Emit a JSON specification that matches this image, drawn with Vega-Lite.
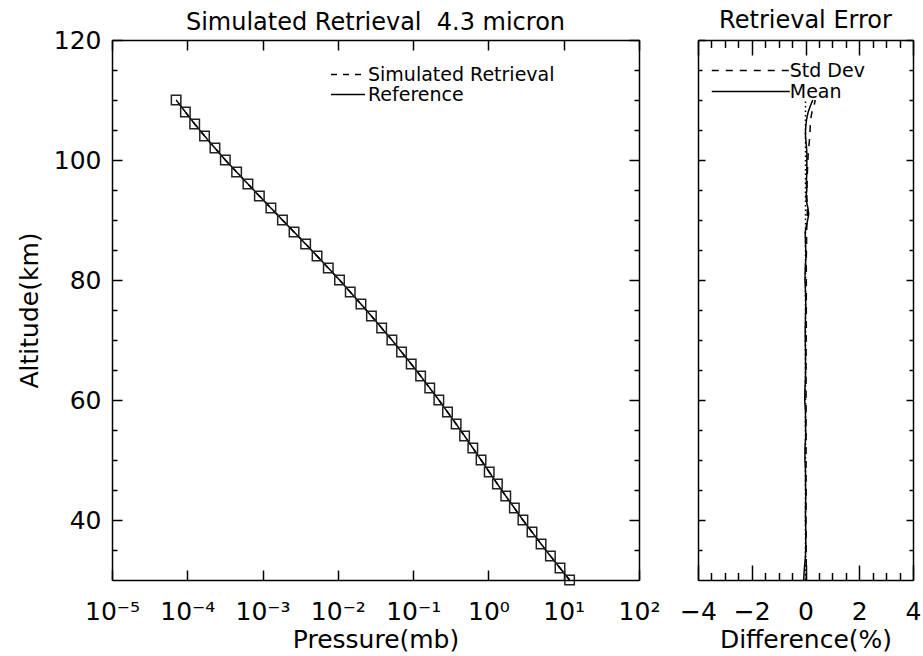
{
  "$schema": "https://vega.github.io/schema/vega-lite/v6.json",
  "background": "white",
  "padding": {"left": 17, "top": 9, "right": 5, "bottom": 5},
  "datasets": {
    "profile": [
      {"alt": 30, "p": 11.97, "series": "Reference"}, {"alt": 32, "p": 8.925, "series": "Reference"}, {"alt": 34, "p": 6.656, "series": "Reference"}, {"alt": 36, "p": 5.002, "series": "Reference"}, {"alt": 38, "p": 3.79, "series": "Reference"}, {"alt": 40, "p": 2.871, "series": "Reference"}, {"alt": 42, "p": 2.21, "series": "Reference"}, {"alt": 44, "p": 1.699, "series": "Reference"}, {"alt": 46, "p": 1.316, "series": "Reference"}, {"alt": 48, "p": 1.024, "series": "Reference"}, {"alt": 50, "p": 0.7978, "series": "Reference"}, {"alt": 52, "p": 0.6203, "series": "Reference"}, {"alt": 54, "p": 0.4824, "series": "Reference"}, {"alt": 56, "p": 0.3725, "series": "Reference"}, {"alt": 58, "p": 0.286, "series": "Reference"}, {"alt": 60, "p": 0.2196, "series": "Reference"}, {"alt": 62, "p": 0.1661, "series": "Reference"}, {"alt": 64, "p": 0.1257, "series": "Reference"}, {"alt": 66, "p": 0.09428, "series": "Reference"}, {"alt": 68, "p": 0.07018, "series": "Reference"}, {"alt": 70, "p": 0.05221, "series": "Reference"}, {"alt": 72, "p": 0.03818, "series": "Reference"}, {"alt": 74, "p": 0.02791, "series": "Reference"}, {"alt": 76, "p": 0.02026, "series": "Reference"}, {"alt": 78, "p": 0.01461, "series": "Reference"}, {"alt": 80, "p": 0.01052, "series": "Reference"}, {"alt": 82, "p": 0.007463, "series": "Reference"}, {"alt": 84, "p": 0.005292, "series": "Reference"}, {"alt": 86, "p": 0.003733, "series": "Reference"}, {"alt": 88, "p": 0.002618, "series": "Reference"}, {"alt": 90, "p": 0.001836, "series": "Reference"}, {"alt": 92, "p": 0.00129, "series": "Reference"}, {"alt": 94, "p": 0.0009064, "series": "Reference"}, {"alt": 96, "p": 0.0006391, "series": "Reference"}, {"alt": 98, "p": 0.0004521, "series": "Reference"}, {"alt": 100, "p": 0.0003201, "series": "Reference"}, {"alt": 102, "p": 0.000233, "series": "Reference"}, {"alt": 104, "p": 0.0001695, "series": "Reference"}, {"alt": 106, "p": 0.0001254, "series": "Reference"}, {"alt": 108, "p": 0.00009438, "series": "Reference"}, {"alt": 110, "p": 0.00007104, "series": "Reference"},
      {"alt": 30, "p": 11.97, "series": "Simulated Retrieval"}, {"alt": 32, "p": 8.925, "series": "Simulated Retrieval"}, {"alt": 34, "p": 6.656, "series": "Simulated Retrieval"}, {"alt": 36, "p": 5.002, "series": "Simulated Retrieval"}, {"alt": 38, "p": 3.79, "series": "Simulated Retrieval"}, {"alt": 40, "p": 2.871, "series": "Simulated Retrieval"}, {"alt": 42, "p": 2.21, "series": "Simulated Retrieval"}, {"alt": 44, "p": 1.699, "series": "Simulated Retrieval"}, {"alt": 46, "p": 1.316, "series": "Simulated Retrieval"}, {"alt": 48, "p": 1.024, "series": "Simulated Retrieval"}, {"alt": 50, "p": 0.7978, "series": "Simulated Retrieval"}, {"alt": 52, "p": 0.6203, "series": "Simulated Retrieval"}, {"alt": 54, "p": 0.4824, "series": "Simulated Retrieval"}, {"alt": 56, "p": 0.3725, "series": "Simulated Retrieval"}, {"alt": 58, "p": 0.286, "series": "Simulated Retrieval"}, {"alt": 60, "p": 0.2196, "series": "Simulated Retrieval"}, {"alt": 62, "p": 0.1661, "series": "Simulated Retrieval"}, {"alt": 64, "p": 0.1257, "series": "Simulated Retrieval"}, {"alt": 66, "p": 0.09428, "series": "Simulated Retrieval"}, {"alt": 68, "p": 0.07018, "series": "Simulated Retrieval"}, {"alt": 70, "p": 0.05221, "series": "Simulated Retrieval"}, {"alt": 72, "p": 0.03818, "series": "Simulated Retrieval"}, {"alt": 74, "p": 0.02791, "series": "Simulated Retrieval"}, {"alt": 76, "p": 0.02026, "series": "Simulated Retrieval"}, {"alt": 78, "p": 0.01461, "series": "Simulated Retrieval"}, {"alt": 80, "p": 0.01052, "series": "Simulated Retrieval"}, {"alt": 82, "p": 0.007463, "series": "Simulated Retrieval"}, {"alt": 84, "p": 0.005292, "series": "Simulated Retrieval"}, {"alt": 86, "p": 0.003733, "series": "Simulated Retrieval"}, {"alt": 88, "p": 0.002618, "series": "Simulated Retrieval"}, {"alt": 90, "p": 0.001836, "series": "Simulated Retrieval"}, {"alt": 92, "p": 0.00129, "series": "Simulated Retrieval"}, {"alt": 94, "p": 0.0009064, "series": "Simulated Retrieval"}, {"alt": 96, "p": 0.0006391, "series": "Simulated Retrieval"}, {"alt": 98, "p": 0.0004521, "series": "Simulated Retrieval"}, {"alt": 100, "p": 0.0003201, "series": "Simulated Retrieval"}, {"alt": 102, "p": 0.000233, "series": "Simulated Retrieval"}, {"alt": 104, "p": 0.0001695, "series": "Simulated Retrieval"}, {"alt": 106, "p": 0.0001254, "series": "Simulated Retrieval"}, {"alt": 108, "p": 0.00009438, "series": "Simulated Retrieval"}, {"alt": 110, "p": 0.00007104, "series": "Simulated Retrieval"}
    ],
    "error": [
      {"alt": 110, "diff": 0.27, "stat": "Mean"}, {"alt": 109, "diff": 0.18, "stat": "Mean"}, {"alt": 108, "diff": 0.1, "stat": "Mean"}, {"alt": 107, "diff": 0.05, "stat": "Mean"}, {"alt": 106, "diff": 0.02, "stat": "Mean"}, {"alt": 105, "diff": 0.0, "stat": "Mean"}, {"alt": 104, "diff": 0.0, "stat": "Mean"}, {"alt": 103, "diff": 0.02, "stat": "Mean"}, {"alt": 102, "diff": 0.04, "stat": "Mean"}, {"alt": 101, "diff": 0.05, "stat": "Mean"}, {"alt": 100, "diff": 0.05, "stat": "Mean"}, {"alt": 98, "diff": 0.05, "stat": "Mean"}, {"alt": 96, "diff": 0.03, "stat": "Mean"}, {"alt": 95, "diff": 0.05, "stat": "Mean"}, {"alt": 94, "diff": 0.02, "stat": "Mean"}, {"alt": 93, "diff": 0.04, "stat": "Mean"}, {"alt": 92, "diff": 0.09, "stat": "Mean"}, {"alt": 91, "diff": 0.12, "stat": "Mean"}, {"alt": 90, "diff": 0.08, "stat": "Mean"}, {"alt": 89, "diff": 0.03, "stat": "Mean"}, {"alt": 88, "diff": -0.01, "stat": "Mean"}, {"alt": 86, "diff": 0.0, "stat": "Mean"}, {"alt": 84, "diff": 0.02, "stat": "Mean"}, {"alt": 82, "diff": -0.01, "stat": "Mean"}, {"alt": 80, "diff": -0.02, "stat": "Mean"}, {"alt": 78, "diff": 0.0, "stat": "Mean"}, {"alt": 76, "diff": 0.01, "stat": "Mean"}, {"alt": 74, "diff": 0.0, "stat": "Mean"}, {"alt": 72, "diff": -0.01, "stat": "Mean"}, {"alt": 70, "diff": -0.01, "stat": "Mean"}, {"alt": 68, "diff": 0.0, "stat": "Mean"}, {"alt": 66, "diff": 0.0, "stat": "Mean"}, {"alt": 64, "diff": 0.0, "stat": "Mean"}, {"alt": 62, "diff": -0.02, "stat": "Mean"}, {"alt": 60, "diff": -0.03, "stat": "Mean"}, {"alt": 58, "diff": 0.0, "stat": "Mean"}, {"alt": 56, "diff": 0.0, "stat": "Mean"}, {"alt": 54, "diff": 0.01, "stat": "Mean"}, {"alt": 52, "diff": -0.02, "stat": "Mean"}, {"alt": 50, "diff": -0.02, "stat": "Mean"}, {"alt": 48, "diff": 0.0, "stat": "Mean"}, {"alt": 46, "diff": 0.0, "stat": "Mean"}, {"alt": 44, "diff": 0.01, "stat": "Mean"}, {"alt": 42, "diff": 0.0, "stat": "Mean"}, {"alt": 40, "diff": 0.0, "stat": "Mean"}, {"alt": 38, "diff": 0.01, "stat": "Mean"}, {"alt": 36, "diff": 0.01, "stat": "Mean"}, {"alt": 34, "diff": 0.0, "stat": "Mean"}, {"alt": 32, "diff": -0.04, "stat": "Mean"}, {"alt": 30, "diff": -0.07, "stat": "Mean"},
      {"alt": 110, "diff": 0.36, "stat": "Std Dev"}, {"alt": 109, "diff": 0.32, "stat": "Std Dev"}, {"alt": 108, "diff": 0.24, "stat": "Std Dev"}, {"alt": 107, "diff": 0.2, "stat": "Std Dev"}, {"alt": 106, "diff": 0.18, "stat": "Std Dev"}, {"alt": 105, "diff": 0.17, "stat": "Std Dev"}, {"alt": 104, "diff": 0.16, "stat": "Std Dev"}, {"alt": 103, "diff": 0.14, "stat": "Std Dev"}, {"alt": 102, "diff": 0.12, "stat": "Std Dev"}, {"alt": 101, "diff": 0.1, "stat": "Std Dev"}, {"alt": 100, "diff": 0.09, "stat": "Std Dev"}, {"alt": 98, "diff": 0.07, "stat": "Std Dev"}, {"alt": 96, "diff": 0.06, "stat": "Std Dev"}, {"alt": 94, "diff": 0.05, "stat": "Std Dev"}, {"alt": 92, "diff": 0.07, "stat": "Std Dev"}, {"alt": 90, "diff": 0.06, "stat": "Std Dev"}, {"alt": 88, "diff": 0.04, "stat": "Std Dev"}, {"alt": 86, "diff": 0.04, "stat": "Std Dev"}, {"alt": 84, "diff": 0.03, "stat": "Std Dev"}, {"alt": 82, "diff": 0.03, "stat": "Std Dev"}, {"alt": 80, "diff": 0.03, "stat": "Std Dev"}, {"alt": 76, "diff": 0.03, "stat": "Std Dev"}, {"alt": 72, "diff": 0.03, "stat": "Std Dev"}, {"alt": 68, "diff": 0.02, "stat": "Std Dev"}, {"alt": 64, "diff": 0.02, "stat": "Std Dev"}, {"alt": 60, "diff": 0.02, "stat": "Std Dev"}, {"alt": 56, "diff": 0.02, "stat": "Std Dev"}, {"alt": 52, "diff": 0.02, "stat": "Std Dev"}, {"alt": 48, "diff": 0.02, "stat": "Std Dev"}, {"alt": 44, "diff": 0.02, "stat": "Std Dev"}, {"alt": 40, "diff": 0.02, "stat": "Std Dev"}, {"alt": 36, "diff": 0.02, "stat": "Std Dev"}, {"alt": 32, "diff": 0.03, "stat": "Std Dev"}, {"alt": 30, "diff": 0.03, "stat": "Std Dev"}
    ],
    "zero": [{"alt": 30, "diff": 0}, {"alt": 110, "diff": 0}]
  },
  "hconcat": [
    {
      "width": 527,
      "height": 540,
      "title": {"text": "Simulated Retrieval\u00a0 4.3 micron", "offset": -7},
      "resolve": {"axis": {"x": "independent", "y": "independent"}},
      "layer": [
        {
          "data": {"name": "profile"},
          "mark": {"type": "line", "color": "black", "strokeWidth": 1.5},
          "encoding": {
            "x": {"field": "p", "type": "quantitative", "scale": {"type": "log", "domain": [0.00001, 100], "nice": false},
              "axis": {"orient": "bottom", "values": [0.00001, 0.0001, 0.001, 0.01, 0.1, 1, 10, 100],
                "labelExpr": "['10\u207b\u2075','10\u207b\u2074','10\u207b\u00b3','10\u207b\u00b2','10\u207b\u00b9','10\u2070','10\u00b9','10\u00b2'][round(log(datum.value)/LN10)+5]",
                "tickSize": -10, "labelPadding": 29, "title": "Pressure(mb)", "titleY": 59, "titleBaseline": "middle"}},
            "y": {"field": "alt", "type": "quantitative", "scale": {"domain": [30, 120], "nice": false, "zero": false},
              "axis": {"orient": "left", "values": [40, 60, 80, 100, 120], "tickSize": -10, "labelPadding": 21, "labelBaseline": "middle",
                "title": "Altitude(km)", "titleX": -83, "titleBaseline": "middle"}},
            "strokeDash": {"field": "series", "type": "nominal",
              "scale": {"domain": ["Simulated Retrieval", "Reference"], "range": [[6, 6], [1, 0]]},
              "legend": {"orient": "none", "legendX": 226.5, "legendY": 25, "title": null, "symbolType": "M-2,0H2", "symbolSize": 289,
                "symbolStrokeWidth": 1.5, "symbolStrokeColor": "black", "labelFontSize": 19, "labelLimit": 0, "labelOffset": 10.5, "rowPadding": 0, "padding": 0}},
            "order": {"field": "alt", "type": "quantitative"}
          }
        },
        {
          "data": {"name": "profile"},
          "transform": [{"filter": "datum.series === 'Simulated Retrieval'"}],
          "mark": {"type": "point", "shape": "square", "filled": false, "size": 90, "stroke": "#222222", "strokeWidth": 1.5, "opacity": 1},
          "encoding": {
            "x": {"field": "p", "type": "quantitative", "scale": {"type": "log", "domain": [0.00001, 100], "nice": false},
              "axis": {"orient": "top", "values": [0.00001, 0.0001, 0.001, 0.01, 0.1, 1, 10, 100], "labels": false, "tickSize": -10, "title": null}},
            "y": {"field": "alt", "type": "quantitative", "scale": {"domain": [30, 120], "nice": false, "zero": false},
              "axis": {"orient": "right", "values": [40, 60, 80, 100, 120], "labels": false, "tickSize": -10, "title": null}}
          }
        },
        {
          "data": {"name": "profile"},
          "mark": {"type": "point", "opacity": 0},
          "encoding": {
            "x": {"field": "p", "type": "quantitative", "scale": {"type": "log", "domain": [0.00001, 100], "nice": false}, "axis": null},
            "y": {"field": "alt", "type": "quantitative", "scale": {"domain": [30, 120], "nice": false, "zero": false},
              "axis": {"orient": "left", "values": [35, 45, 50, 55, 65, 70, 75, 85, 90, 95, 105, 110, 115], "labels": false, "domain": false, "tickSize": -5, "title": null}}
          }
        },
        {
          "data": {"name": "profile"},
          "mark": {"type": "point", "opacity": 0},
          "encoding": {
            "x": {"field": "p", "type": "quantitative", "scale": {"type": "log", "domain": [0.00001, 100], "nice": false}, "axis": null},
            "y": {"field": "alt", "type": "quantitative", "scale": {"domain": [30, 120], "nice": false, "zero": false},
              "axis": {"orient": "right", "values": [35, 45, 50, 55, 65, 70, 75, 85, 90, 95, 105, 110, 115], "labels": false, "domain": false, "tickSize": -5, "title": null}}
          }
        }
      ]
    },
    {
      "width": 215,
      "height": 540,
      "title": {"text": "Retrieval Error", "offset": 6},
      "resolve": {"axis": {"x": "independent", "y": "independent"}},
      "layer": [
        {
          "data": {"name": "error"},
          "mark": {"type": "line", "color": "black", "strokeWidth": 1.5},
          "encoding": {
            "x": {"field": "diff", "type": "quantitative", "scale": {"domain": [-4, 4], "nice": false, "zero": false},
              "axis": {"orient": "bottom", "values": [-4, -2, 0, 2, 4], "tickSize": -15, "labelPadding": 34, "title": "Difference(%)", "titleY": 59, "titleBaseline": "middle"}},
            "y": {"field": "alt", "type": "quantitative", "scale": {"domain": [30, 120], "nice": false, "zero": false},
              "axis": {"orient": "left", "values": [40, 60, 80, 100, 120], "labels": false, "tickSize": -7, "title": null}},
            "strokeDash": {"field": "stat", "type": "nominal",
              "scale": {"domain": ["Std Dev", "Mean"], "range": [[7, 7], [1, 0]]},
              "legend": {"orient": "none", "legendX": 42.25, "legendY": 20, "title": null, "symbolType": "M-4,0H4", "symbolSize": 380,
                "symbolStrokeWidth": 1.5, "symbolStrokeColor": "black", "labelFontSize": 19, "labelLimit": 0, "labelOffset": 28.5, "rowPadding": 0, "padding": 0}},
            "order": {"field": "alt", "type": "quantitative"}
          }
        },
        {
          "data": {"name": "zero"},
          "mark": {"type": "line", "color": "black", "strokeWidth": 1.5, "strokeDash": [1.5, 3]},
          "encoding": {
            "x": {"field": "diff", "type": "quantitative", "scale": {"domain": [-4, 4], "nice": false, "zero": false},
              "axis": {"orient": "top", "values": [-4, -2, 0, 2, 4], "labels": false, "tickSize": -15, "title": null}},
            "y": {"field": "alt", "type": "quantitative", "scale": {"domain": [30, 120], "nice": false, "zero": false},
              "axis": {"orient": "right", "values": [40, 60, 80, 100, 120], "labels": false, "tickSize": -7, "title": null}}
          }
        },
        {
          "data": {"name": "error"},
          "mark": {"type": "point", "opacity": 0},
          "encoding": {
            "x": {"field": "diff", "type": "quantitative", "scale": {"domain": [-4, 4], "nice": false, "zero": false},
              "axis": {"orient": "bottom", "values": [-3.5, -3, -2.5, -1.5, -1, -0.5, 0.5, 1, 1.5, 2.5, 3, 3.5], "labels": false, "domain": false, "tickSize": -7.5, "title": null}},
            "y": {"field": "alt", "type": "quantitative", "scale": {"domain": [30, 120], "nice": false, "zero": false},
              "axis": {"orient": "left", "values": [35, 45, 50, 55, 65, 70, 75, 85, 90, 95, 105, 110, 115], "labels": false, "domain": false, "tickSize": -4, "title": null}}
          }
        },
        {
          "data": {"name": "error"},
          "mark": {"type": "point", "opacity": 0},
          "encoding": {
            "x": {"field": "diff", "type": "quantitative", "scale": {"domain": [-4, 4], "nice": false, "zero": false},
              "axis": {"orient": "top", "values": [-3.5, -3, -2.5, -1.5, -1, -0.5, 0.5, 1, 1.5, 2.5, 3, 3.5], "labels": false, "domain": false, "tickSize": -7.5, "title": null}},
            "y": {"field": "alt", "type": "quantitative", "scale": {"domain": [30, 120], "nice": false, "zero": false},
              "axis": {"orient": "right", "values": [35, 45, 50, 55, 65, 70, 75, 85, 90, 95, 105, 110, 115], "labels": false, "domain": false, "tickSize": -4, "title": null}}
          }
        }
      ]
    }
  ],
  "spacing": 59,
  "bounds": "flush",
  "resolve": {"scale": {"strokeDash": "independent"}, "legend": {"strokeDash": "independent"}},
  "config": {
    "font": "DejaVu Sans",
    "view": {"stroke": null},
    "axis": {"grid": false, "domainColor": "black", "domainWidth": 1.5, "tickColor": "black", "tickWidth": 1.5,
      "labelColor": "black", "labelFont": "DejaVu Sans", "labelFontSize": 25, "labelFlush": false, "labelOverlap": false,
      "titleFont": "DejaVu Sans", "titleFontSize": 25, "titleFontWeight": "normal", "titleColor": "black"},
    "title": {"font": "DejaVu Sans", "fontSize": 24, "fontWeight": "normal", "color": "black"},
    "legend": {"labelFont": "DejaVu Sans", "labelColor": "black"}
  }
}
